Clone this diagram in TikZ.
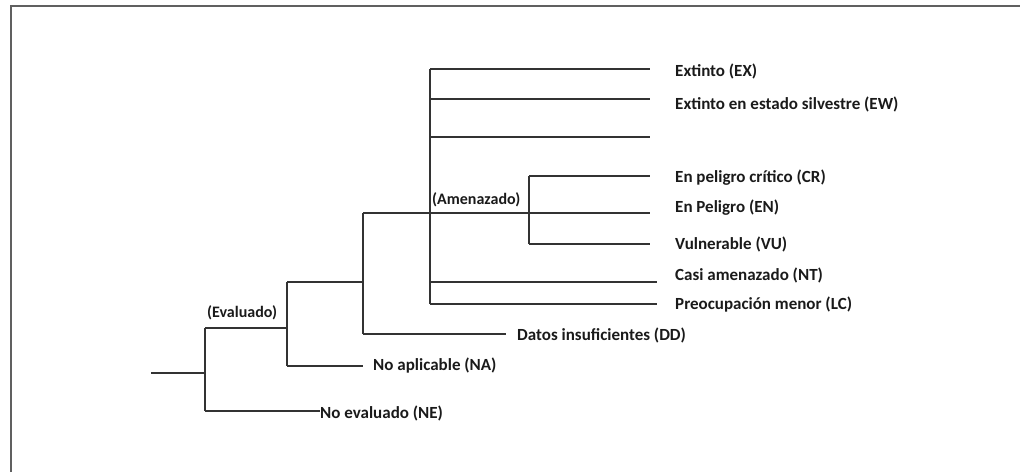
\documentclass[tikz,border=0pt]{standalone}
\usepackage{fontspec}
\setmainfont{Carlito}
\definecolor{ln}{HTML}{333333}
\definecolor{tx}{HTML}{1A1A1A}
\definecolor{frame}{HTML}{606060}
\begin{document}
\begin{tikzpicture}[x=1pt,y=-1pt,
  br/.style={draw=ln,line width=1.3pt},
  lab/.style={anchor=west,inner sep=0pt,text=tx,font=\fontsize{17}{19}\selectfont\bfseries},
  grp/.style={lab,font=\fontsize{16}{18}\selectfont\bfseries}]
\useasboundingbox (0,0) rectangle (1020,472);
\draw[frame,line width=2pt] (10.5,472) -- (10.5,5.5) -- (1020,5.5);
% junction coordinates
\coordinate (root) at (151,373);
\coordinate (j1) at (205,373);
\coordinate (j1t) at (205,328);
\coordinate (j1b) at (205,411);
\coordinate (j2t) at (287,282);
\coordinate (j2m) at (287,328);
\coordinate (j2b) at (287,366);
\coordinate (j3t) at (363,213);
\coordinate (j3m) at (363,282);
\coordinate (j3b) at (363,334);
\coordinate (j4t) at (430,69);
\coordinate (j4m) at (430,213);
\coordinate (j4b) at (430,304);
\coordinate (j5t) at (529,176);
\coordinate (j5b) at (529,244);
% line ends
\coordinate (eEX) at (650,69);
\coordinate (eEW) at (650,99);
\coordinate (eB) at (650,137);
\coordinate (eCR) at (650,176);
\coordinate (eEN) at (650,213);
\coordinate (eVU) at (650,244);
\coordinate (eNT) at (657,282);
\coordinate (eLC) at (657,304);
\coordinate (eDD) at (506,334);
\coordinate (eNA) at (363,366);
% labels
\node[lab] (EX) at (675,71) {Extinto (EX)};
\node[lab] (EW) at (675,104) {Extinto en estado silvestre (EW)};
\node[lab] (CR) at (675,178) {En peligro crítico (CR)};
\node[lab] (EN) at (675,208) {En Peligro (EN)};
\node[lab] (VU) at (675,244) {Vulnerable (VU)};
\node[lab] (NT) at (675,275) {Casi amenazado (NT)};
\node[lab] (LC) at (675,305) {Preocupación menor (LC)};
\node[lab] (DD) at (517,335) {Datos insuficientes (DD)};
\node[lab] (NA) at (373,366) {No aplicable (NA)};
\node[lab] (NE) at (320,413) {No evaluado (NE)};
\node[grp] (AM) at (432,200) {(Amenazado)};
\node[grp] (EV) at (207,313) {(Evaluado)};
% branches
\draw[br] (root) -- (j1);
\draw[br] (j1t) -- (j1b);
\draw[br] (j1t) -- (j2m);
\draw[br] (j1b) -- (j1b -| NE.west);
\draw[br] (j2t) -- (j2b);
\draw[br] (j2b) -- (eNA);
\draw[br] (j2t) -- (j3m);
\draw[br] (j3t) -- (j3b);
\draw[br] (j3b) -- (eDD);
\draw[br] (j3t) -- (eEN);
\draw[br] (j4t) -- (j4b);
\draw[br] (j4t) -- (eEX);
\draw[br] (j4t |- eEW) -- (eEW);
\draw[br] (j4t |- eB) -- (eB);
\draw[br] (j4t |- eNT) -- (eNT);
\draw[br] (j4b) -- (eLC);
\draw[br] (j5t) -- (j5b);
\draw[br] (j5t) -- (eCR);
\draw[br] (j5b) -- (eVU);
\end{tikzpicture}
\end{document}
